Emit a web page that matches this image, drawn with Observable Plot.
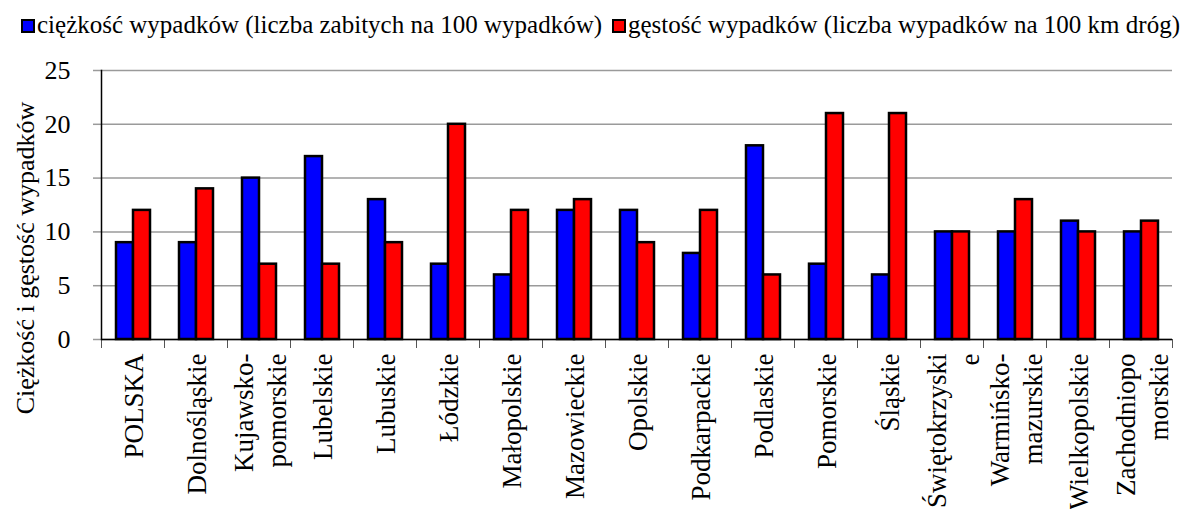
<!DOCTYPE html>
<html><head><meta charset="utf-8">
<script src="https://cdn.jsdelivr.net/npm/d3@7"></script>
<script src="https://cdn.jsdelivr.net/npm/@observablehq/plot@0.6"></script>
<style>
html,body{margin:0;padding:0;background:#fff;}
body{font-family:"Liberation Serif","Times New Roman",serif;color:#000;width:1181px;height:509px;overflow:hidden;position:relative;}
#legend{position:relative;height:48px;font-size:25px;}
.sw{position:absolute;top:19px;width:14px;height:14px;box-sizing:border-box;border:2px solid #000;}
.lt{position:absolute;top:10.6px;line-height:28px;white-space:nowrap;}
#ylabel{position:absolute;left:-174px;top:245px;width:400px;height:26px;line-height:26px;font-size:26px;text-align:center;white-space:nowrap;transform:rotate(-90deg);}
</style></head>
<body>
<div id="legend"></div>
<div id="chart"></div>
<div id="ylabel"></div>
<script>
const regions = ["POLSKA","Dolnośląskie","Kujawsko-\npomorskie","Lubelskie","Lubuskie","Łódzkie","Małopolskie","Mazowieckie","Opolskie","Podkarpackie","Podlaskie","Pomorskie","Śląskie","Świętokrzyski\ne","Warmińsko-\nmazurskie","Wielkopolskie","Zachodniopo\nmorskie"];
const severity = [9,9,15,17,13,7,6,12,12,8,18,7,6,10,10,11,10];
const density  = [12,14,7,7,9,20,12,13,9,12,6,21,21,10,13,10,11];
const seriesNames = ["ciężkość wypadków (liczba zabitych na 100 wypadków)","gęstość wypadków (liczba wypadków na 100 km dróg)"];
const seriesColors = ["#0000ff","#ff0000"];
const yTicks = [0,5,10,15,20,25];
const yLabel = "Ciężkość i gęstość wypadków";

// legend
const swatchLeft = [21, 612];
const textLeft = [37, 628];
const lg = document.getElementById("legend");
seriesNames.forEach((s,i)=>{
  const sw = document.createElement("div");
  sw.className = "sw";
  sw.style.left = swatchLeft[i] + "px";
  sw.style.background = seriesColors[i];
  const t = document.createElement("div");
  t.className = "lt";
  t.style.left = textLeft[i] + "px";
  t.textContent = s;
  lg.append(sw, t);
});
document.getElementById("ylabel").textContent = yLabel;

const data = regions.flatMap((r,i)=>[
  {region:r, series:seriesNames[0], value:severity[i]},
  {region:r, series:seriesNames[1], value:density[i]}
]);

const chart = Plot.plot({
  width:1181, height:461,
  marginLeft:94, marginRight:3, marginTop:22, marginBottom:170,
  style:{fontFamily:"Liberation Serif, Times New Roman, serif", fontSize:"26px", color:"#000", background:"#fff", overflow:"visible"},
  fx:{domain:regions, padding:0, label:null, axis:null},
  x:{domain:seriesNames, paddingInner:0, paddingOuter:0.77, axis:null},
  y:{domain:[0,25], label:null},
  color:{domain:seriesNames, range:seriesColors},
  marks:[
    Plot.gridY(yTicks, {stroke:"#9a9a9a", strokeOpacity:1, strokeWidth:1.5}),
    Plot.axisY(yTicks, {tickSize:8, stroke:"#9a9a9a", strokeWidth:1.5, tickPadding:23, label:null, fontSize:26}),
    Plot.axisFx({anchor:"bottom", tickSize:0, tickRotate:-90, tickPadding:14, label:null, lineAnchor:"middle", lineHeight:1.2, fontSize:27}),
    Plot.frame({anchor:"left", stroke:"#000", strokeWidth:1.5, facetAnchor:"left"}),
    Plot.frame({anchor:"left", stroke:"#555", strokeWidth:1, insetTop:269, insetBottom:-8}),
    Plot.frame({anchor:"right", stroke:"#555", strokeWidth:1, insetTop:269, insetBottom:-8}),
    Plot.barY(data, {fx:"region", x:"series", y:"value", fill:"series", stroke:"#000", strokeWidth:2.5}),
    Plot.ruleY([0], {stroke:"#000", strokeWidth:1.5})
  ]
});
document.getElementById("chart").append(chart);
</script>
</body></html>
